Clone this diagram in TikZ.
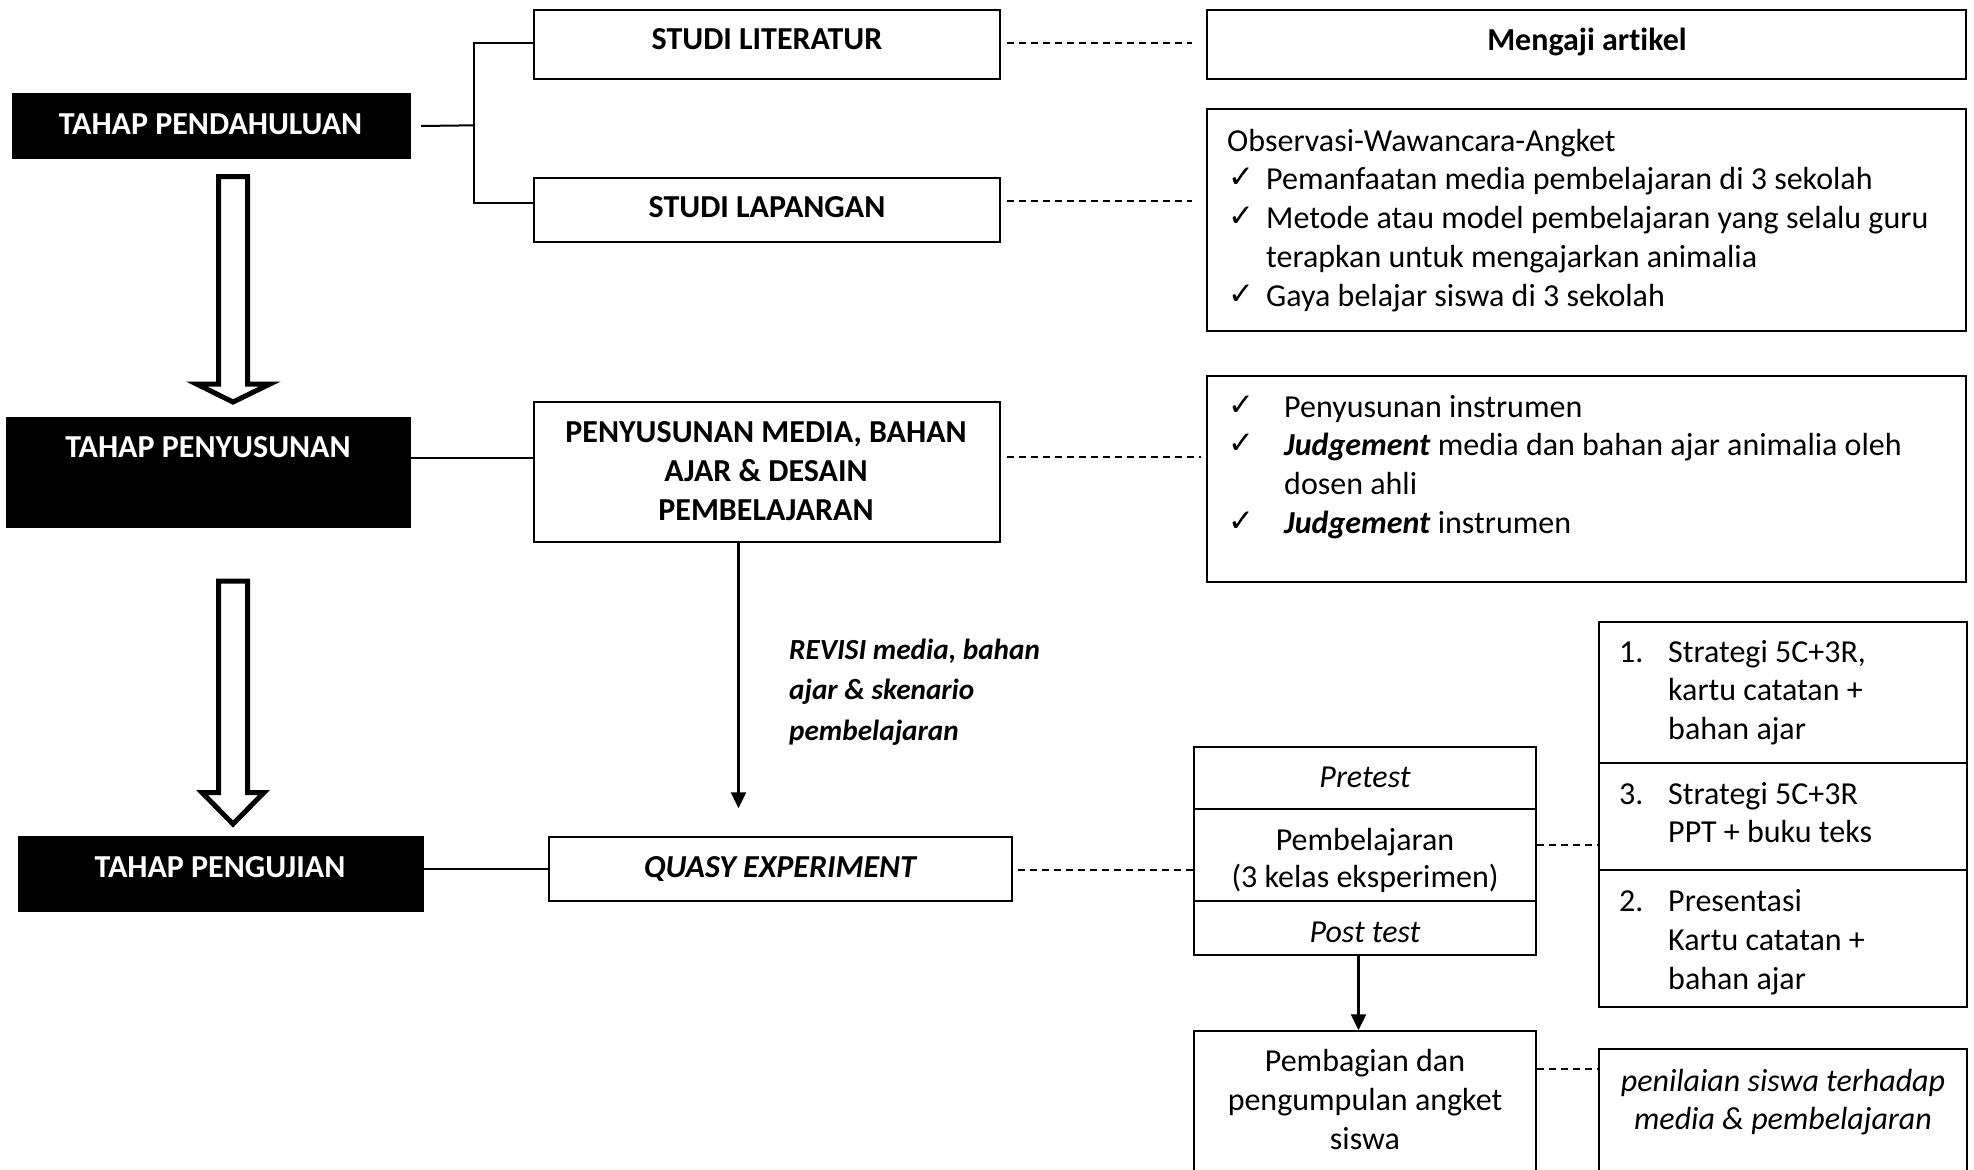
\documentclass[tikz,border=0pt]{standalone}
\usepackage{fontspec}
\setmainfont[Ligatures={NoCommon}]{Carlito}
\newfontfamily\chkfont{DejaVu Sans}
\usetikzlibrary{calc,arrows.meta}
\begin{document}
\begin{tikzpicture}[x=1pt,y=-1pt,
  box/.style={draw=black, line width=1.5pt, fill=white, inner sep=0pt},
  blk/.style={fill=black, draw=none, inner sep=0pt},
  tx/.style={inner sep=0pt, font=\fontsize{32}{39}\selectfont},
  bx/.style={inner sep=0pt, font=\fontsize{32}{39}\selectfont\bfseries},
  bix/.style={inner sep=0pt, font=\fontsize{32}{39}\selectfont\bfseries\itshape},
  rvx/.style={inner sep=0pt, font=\fontsize{29.2}{39}\selectfont\bfseries\itshape},
  ix/.style={inner sep=0pt, font=\fontsize{32}{39}\selectfont\itshape},
  wx/.style={bx, text=white},
  chk/.style={inner sep=0pt, font=\chkfont\fontsize{31}{34}\selectfont},
  conn/.style={line width=2pt},
  dsh/.style={line width=1.6pt, dash pattern=on 7pt off 5pt},
  arr/.style={line width=2.4pt, -{Triangle[width=15pt,length=16pt]}},
  hollow/.style={line width=5pt, fill=white, line join=miter}
]
\useasboundingbox (0,0) rectangle (1974,1170);
\clip (0,0) rectangle (1974,1170);

% ---------- left stage boxes
\node[blk, minimum width=399pt, minimum height=66pt] (pend) at (211.5,126) {};
\node[wx, anchor=base] (pendT) at (210.5,134) {TAHAP PENDAHULUAN};
\node[blk, minimum width=405pt, minimum height=111pt] (peny) at (208.5,472.5) {};
\node[wx, anchor=base] (penyT) at (208,457) {TAHAP PENYUSUNAN};
\node[blk, minimum width=406pt, minimum height=76pt] (peng) at (221,874) {};
\node[wx, anchor=base] (pengT) at (220,877) {TAHAP PENGUJIAN};

% ---------- hollow block arrows
\draw[hollow] (218.5,176.5) -- (247.5,176.5) -- (247.5,384) -- (270,384) -- (233,402)
  -- (196.5,384) -- (218.5,384) -- cycle;
\draw[hollow] (218.5,581) -- (247.5,581) -- (247.5,792.5) -- (264,792.5) -- (233,824)
  -- (202,792.5) -- (218.5,792.5) -- cycle;

% ---------- middle column
\node[box, minimum width=466pt, minimum height=69pt] (lit) at (767,44.5) {};
\node[bx, anchor=base] (litT) at (767,49) {STUDI LITERATUR};
\node[box, minimum width=466pt, minimum height=64pt] (lap) at (767,210) {};
\node[bx, anchor=base] (lapT) at (767,217) {STUDI LAPANGAN};
\node[box, minimum width=466pt, minimum height=140pt] (pmed) at (767,472) {};
\node[bx, anchor=base] (pmed1) at (766,442) {PENYUSUNAN MEDIA, BAHAN};
\node[bx, anchor=base] (pmed2) at (766,481) {AJAR \& DESAIN};
\node[bx, anchor=base] (pmed3) at (766,520) {PEMBELAJARAN};
\node[box, minimum width=463pt, minimum height=64pt] (quasy) at (780.5,869) {};
\node[bix, anchor=base] (quasyT) at (780,877) {QUASY EXPERIMENT};

\node[rvx, anchor=base west] (rev1) at (789,659) {REVISI media, bahan};
\node[rvx, anchor=base west] (rev2) at (789,699) {ajar \& skenario};
\node[rvx, anchor=base west] (rev3) at (789,740) {pembelajaran};

% ---------- right column, top
\node[box, minimum width=759pt, minimum height=69pt] (ment) at (1586.5,44.5) {};
\node[bx, anchor=base] (mentT) at (1587,50) {Mengaji artikel};

\node[box, minimum width=759pt, minimum height=222pt] (obs) at (1586.5,220) {};
\node[tx, anchor=base west] (obs0) at (1227,151) {Observasi-Wawancara-Angket};
\node[chk, anchor=base west] (oc1) at (1228,187) {✓};
\node[tx, anchor=base west] (obs1) at (1266,189) {Pemanfaatan media pembelajaran di 3 sekolah};
\node[chk, anchor=base west] (oc2) at (1228,226) {✓};
\node[tx, anchor=base west] (obs2) at (1266,228) {Metode atau model pembelajaran yang selalu guru};
\node[tx, anchor=base west] (obs3) at (1266,267) {terapkan untuk mengajarkan animalia};
\node[chk, anchor=base west] (oc3) at (1228,304) {✓};
\node[tx, anchor=base west] (obs4) at (1266,306) {Gaya belajar siswa di 3 sekolah};

\node[box, minimum width=759pt, minimum height=206pt] (judg) at (1586.5,479) {};
\node[chk, anchor=base west] (jc1) at (1228,415) {✓};
\node[tx, anchor=base west] (jd1) at (1284,417) {Penyusunan instrumen};
\node[chk, anchor=base west] (jc2) at (1228,453) {✓};
\node[tx, anchor=base west] (jd2) at (1284,455) {\textbf{\textit{Judgement}} media dan bahan ajar animalia oleh};
\node[tx, anchor=base west] (jd3) at (1284,494) {dosen ahli};
\node[chk, anchor=base west] (jc3) at (1228,531) {✓};
\node[tx, anchor=base west] (jd4) at (1284,533) {\textbf{\textit{Judgement}} instrumen};

% ---------- experiment stack
\node[box, minimum width=342pt, minimum height=62pt] (pre) at (1365,778) {};
\node[ix, anchor=base] (preT) at (1365,787) {Pretest};
\node[box, minimum width=342pt, minimum height=92pt] (pemb) at (1365,855) {};
\node[tx, anchor=base] (pembT1) at (1365,850) {Pembelajaran};
\node[tx, anchor=base] (pembT2) at (1365,887) {(3 kelas eksperimen)};
\node[box, minimum width=342pt, minimum height=54pt] (post) at (1365,928) {};
\node[ix, anchor=base] (postT) at (1365,942) {Post test};

\node[box, minimum width=342pt, minimum height=169pt] (pembag) at (1365,1115.5) {};
\node[tx, anchor=base] (pbg1) at (1365,1071) {Pembagian dan};
\node[tx, anchor=base] (pbg2) at (1365,1110) {pengumpulan angket};
\node[tx, anchor=base] (pbg3) at (1365,1149) {siswa};

% ---------- right stack
\node[box, minimum width=368pt, minimum height=141pt] (r1) at (1783,692.5) {};
\node[tx, anchor=base west] (r1n) at (1619,662) {1.};
\node[tx, anchor=base west] (r1a) at (1668,662) {Strategi 5C+3R,};
\node[tx, anchor=base west] (r1b) at (1668,700) {kartu catatan +};
\node[tx, anchor=base west] (r1c) at (1668,739) {bahan ajar};
\node[box, minimum width=368pt, minimum height=107pt] (r3) at (1783,816.5) {};
\node[tx, anchor=base west] (r3n) at (1619,804) {3.};
\node[tx, anchor=base west] (r3a) at (1668,804) {Strategi 5C+3R};
\node[tx, anchor=base west] (r3b) at (1668,842) {PPT + buku teks};
\node[box, minimum width=368pt, minimum height=137pt] (r2) at (1783,938.5) {};
\node[tx, anchor=base west] (r2n) at (1619,911) {2.};
\node[tx, anchor=base west] (r2a) at (1668,911) {Presentasi};
\node[tx, anchor=base west] (r2b) at (1668,950) {Kartu catatan +};
\node[tx, anchor=base west] (r2c) at (1668,989) {bahan ajar};

\node[box, minimum width=368pt, minimum height=151pt] (penil) at (1783,1124.5) {};
\node[ix, anchor=base] (pn1) at (1783,1091) {penilaian siswa terhadap};
\node[ix, anchor=base] (pn2) at (1783,1129) {media \& pembelajaran};

% ---------- solid connectors
\coordinate (jn) at (474,125.3);
\draw[conn] ($(pend.east)+(10,0)$) -- (jn);
\draw[conn] ($(lit.west)+(0,-1.5)$) -| (jn) |- ($(lap.west)+(0,-7.3)$);
\draw[conn] ($(peny.east)+(0,-14.5)$) coordinate (pa) -- (pa -| pmed.west);
\draw[conn] (quasy.west -| peng.east) -- (quasy.west);
\coordinate (ax) at (738.5,0);
\draw[arr] (pmed.south -| ax) -- ($(quasy.north -| ax)+(0,-28)$);
\draw[arr] ($(post.south)+(-6.5,0)$) -- ($(pembag.north)+(-6.5,0)$);

% ---------- dashed connectors
\draw[dsh] ($(lit.east)+(6,-1.5)$) coordinate (d1) -- ($(d1 -| ment.west)+(-14,0)$);
\draw[dsh] ($(lap.east)+(6,-9)$) coordinate (d2) -- ($(d2 -| obs.west)+(-14,0)$);
\draw[dsh] ($(pmed.east)+(6,-15)$) coordinate (d3) -- ($(d3 -| judg.west)+(-5,0)$);
\draw[dsh] ($(quasy.east)+(5,1)$) coordinate (d4) -- (d4 -| pemb.west);
\draw[dsh] ($(pemb.east)+(0,-10)$) coordinate (d5) -- (d5 -| r3.west);
\draw[dsh] ($(pembag.north east)+(0,38.5)$) coordinate (d6) -- (d6 -| penil.west);
\end{tikzpicture}
\end{document}
